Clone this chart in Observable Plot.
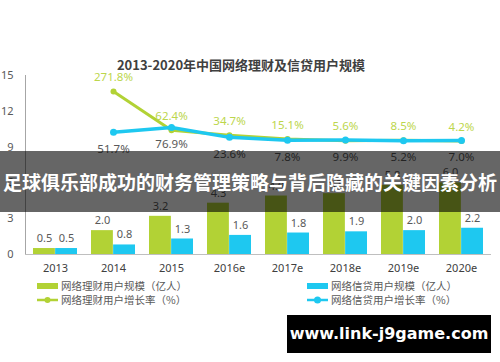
<!DOCTYPE html>
<html><head><meta charset="utf-8">
<script src="https://cdn.jsdelivr.net/npm/d3@7"></script>
<script src="https://cdn.jsdelivr.net/npm/@observablehq/plot@0.6"></script>
<style>
html,body{margin:0;padding:0;background:#fff;}
#wrap{position:relative;width:500px;height:362px;overflow:hidden;font-family:"Noto Sans CJK SC","Noto Sans",sans-serif;}
#chart{position:absolute;left:0;top:0;}
.title{position:absolute;left:0;width:482px;top:55px;text-align:center;font-size:13px;font-weight:bold;color:#404040;line-height:20px;}
.leg{position:absolute;font-size:10.5px;color:#595959;line-height:14px;display:flex;align-items:center;white-space:nowrap;}
.leg svg{margin-right:2px;}
.banner{position:absolute;left:0;top:151px;width:500px;height:61px;background:rgba(0,0,0,0.6);color:#fff;font-family:"Noto Sans CJK SC",sans-serif;font-weight:bold;font-size:19px;line-height:61px;text-align:center;white-space:nowrap;letter-spacing:0;}
.wm{position:absolute;left:287px;top:315px;width:204px;height:38px;background:#000;color:#fff;font-family:"DejaVu Sans",sans-serif;font-weight:bold;font-size:16px;line-height:38px;text-align:center;}
</style></head>
<body>
<div id="wrap">
  <div id="chart"></div>
  <div class="title">2013-2020年中国网络理财及信贷用户规模</div>
  <div class="leg" style="left:37px;top:279px;"><svg width="22" height="8"><rect x="0" y="1" width="21" height="6" fill="#b2d235"/></svg>网络理财用户规模（亿人）</div>
  <div class="leg" style="left:37px;top:293px;"><svg width="22" height="8"><line x1="0" y1="4" x2="21" y2="4" stroke="#b2d235" stroke-width="2.5"/><circle cx="10.5" cy="4" r="3" fill="#b2d235"/></svg>网络理财用户增长率（%）</div>
  <div class="leg" style="left:307px;top:279px;"><svg width="22" height="8"><rect x="0" y="1" width="21" height="6" fill="#1ec8f0"/></svg>网络信贷用户规模（亿人）</div>
  <div class="leg" style="left:307px;top:293px;"><svg width="22" height="8"><line x1="0" y1="4" x2="21" y2="4" stroke="#1ec8f0" stroke-width="2.5"/><circle cx="10.5" cy="4" r="3.5" fill="#1ec8f0"/></svg>网络信贷用户增长率（%）</div>
  <div class="banner">足球俱乐部成功的财务管理策略与背后隐藏的关键因素分析</div>
  <div class="wm">www.link-j9game.com</div>
</div>
<script>
const years = ["2013","2014","2015","2016e","2017e","2018e","2019e","2020e"];
const financeUsers = [0.5, 2.0, 3.2, 4.3, 4.9, 5.1, 5.8, 6.0];
const creditUsers = [0.5, 0.8, 1.3, 1.6, 1.8, 1.9, 2.0, 2.2];
const financeGrowth = [null, 271.8, 62.4, 34.7, 15.1, 5.6, 8.5, 4.2];
const creditGrowth = [null, 51.7, 76.9, 23.6, 7.8, 9.9, 5.2, 7.0];
const yTicks = [0, 3, 6, 9, 12, 15];

const green = "#b2d235", blue = "#1ec8f0";
// secondary (hidden) axis for growth rate, mapped onto the primary scale
const rate = r => 9.45 + r * 0.0155;

const data = years.map((y, i) => ({year: y, fu: financeUsers[i], cu: creditUsers[i], fg: financeGrowth[i], cg: creditGrowth[i]}));
const fgData = data.filter(d => d.fg != null);
const cgData = data.filter(d => d.cg != null);
const half = 466 / years.length / 2;

const chart = Plot.plot({
  width: 500, height: 362,
  marginTop: 75, marginBottom: 108, marginLeft: 25, marginRight: 9,
  style: {fontFamily: "'Noto Sans','Noto Sans CJK SC',sans-serif", fontSize: "11px", color: "#595959", background: "transparent"},
  x: {domain: years, padding: 0, label: null},
  y: {domain: [0, 15], label: null},
  marks: [
    Plot.frame({anchor: "left", stroke: "#a6a6a6"}),
    Plot.axisY({ticks: yTicks, tickSize: 0, tickPadding: 12, label: null}),
    Plot.axisX({tickSize: 0, tickPadding: 10, label: null, fill: "#404040"}),
    Plot.barY(data, {x: "year", y: "fu", fill: green, insetLeft: 7, insetRight: half}),
    Plot.barY(data, {x: "year", y: "cu", fill: blue, insetLeft: half, insetRight: 7}),
    Plot.ruleY([0], {stroke: "#bfbfbf"}),
    Plot.text(data, {x: "year", y: "fu", text: d => d.fu.toFixed(1), dx: -11, dy: -10, fill: "#595959"}),
    Plot.text(data, {x: "year", y: "cu", text: d => d.cu.toFixed(1), dx: 11, dy: -10, fill: "#595959"}),
    Plot.line(fgData, {x: "year", y: d => rate(d.fg), stroke: green, strokeWidth: 3}),
    Plot.dot(fgData, {x: "year", y: d => rate(d.fg), r: 3, fill: green}),
    Plot.line(cgData, {x: "year", y: d => rate(d.cg), stroke: blue, strokeWidth: 3.5}),
    Plot.dot(cgData, {x: "year", y: d => rate(d.cg), r: 3.5, fill: blue}),
    Plot.text(fgData, {x: "year", y: d => rate(d.fg), text: d => d.fg.toFixed(1) + "%", dy: -14, fill: "#bcd64c", fontSize: 11.5}),
    Plot.text(cgData, {x: "year", y: d => rate(d.cg), text: d => d.cg.toFixed(1) + "%", dy: 17, fill: "#595959", fontSize: 11.5})
  ]
});
document.getElementById("chart").appendChild(chart);
</script>
</body></html>
